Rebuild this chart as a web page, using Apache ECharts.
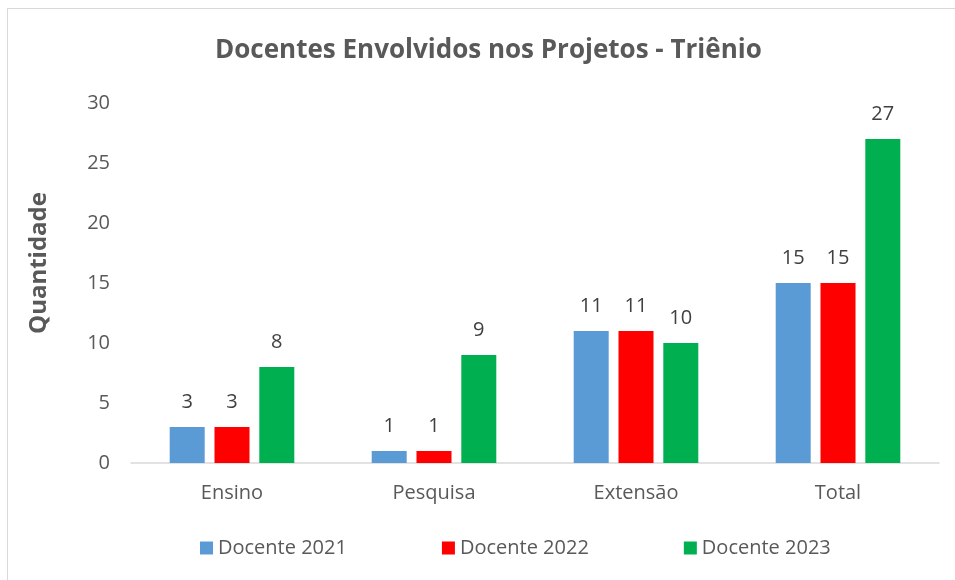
<!DOCTYPE html>
<html lang="pt">
  <head>
    <meta charset="UTF-8" />
    <title>Docentes Envolvidos nos Projetos - Triênio</title>
    <script src="https://cdn.jsdelivr.net/npm/echarts@6/dist/echarts.min.js"></script>
    <style>
      body { margin: 0; background: #fff; }
      #frame { position: absolute; left: 7px; top: 8px; width: 960px; height: 590px; border: 1px solid #d9d9d9; }
    </style>
  </head>
  <body>
    <div id="frame"></div>
    <div id="main" style="position: absolute; left: 0; top: 0; width: 955px; height: 580px"></div>
    <script type="text/javascript">
      const categories = ["Ensino", "Pesquisa", "Extensão", "Total"];
      const docente2021 = [3, 1, 11, 15];
      const docente2022 = [3, 1, 11, 15];
      const docente2023 = [8, 9, 10, 27];
      const yTicks = [0, 5, 10, 15, 20, 25, 30];

      const font = "'Open Sans', 'Liberation Sans', sans-serif";
      const textColor = "#595959";

      const myChart = echarts.init(document.getElementById("main"));

      const label = {
        show: true,
        position: "top",
        distance: 15,
        color: "#404040",
        fontSize: 20,
        fontFamily: font
      };

      const makeSeries = (name, data, color) => ({
        name: name,
        type: "bar",
        data: data,
        barWidth: 35,
        barGap: "28%",
        itemStyle: { color: color },
        label: label
      });

      const option = {
        animation: false,
        title: {
          text: "Docentes Envolvidos nos Projetos - Triênio",
          left: 210,
          top: 33,
          textStyle: { color: textColor, fontSize: 26, fontWeight: "bold", fontFamily: font }
        },
        legend: {
          bottom: 17,
          left: 195,
          itemWidth: 13,
          itemHeight: 13,
          itemGap: 95,
          icon: "rect",
          textStyle: { color: textColor, fontSize: 20, fontFamily: font }
        },
        grid: { left: 131, right: 16, top: 103, bottom: 117 },
        xAxis: {
          type: "category",
          data: categories,
          axisTick: { show: false },
          axisLine: { lineStyle: { color: "#d9d9d9", width: 1.5 } },
          axisLabel: { color: textColor, fontSize: 20, fontFamily: font, margin: 20 }
        },
        yAxis: {
          type: "value",
          min: yTicks[0],
          max: yTicks[yTicks.length - 1],
          interval: yTicks[1] - yTicks[0],
          name: "Quantidade",
          nameLocation: "middle",
          nameGap: 80,
          nameTextStyle: { color: textColor, fontSize: 24, fontWeight: "bold", fontFamily: font, padding: [0, 0, 0, 40] },
          splitLine: { show: false },
          axisLine: { show: false },
          axisLabel: { color: textColor, fontSize: 20, fontFamily: font, margin: 21 }
        },
        series: [
          makeSeries("Docente 2021", docente2021, "#5b9bd5"),
          makeSeries("Docente 2022", docente2022, "#ff0000"),
          makeSeries("Docente 2023", docente2023, "#00b050")
        ]
      };

      myChart.setOption(option);
    </script>
  </body>
</html>
